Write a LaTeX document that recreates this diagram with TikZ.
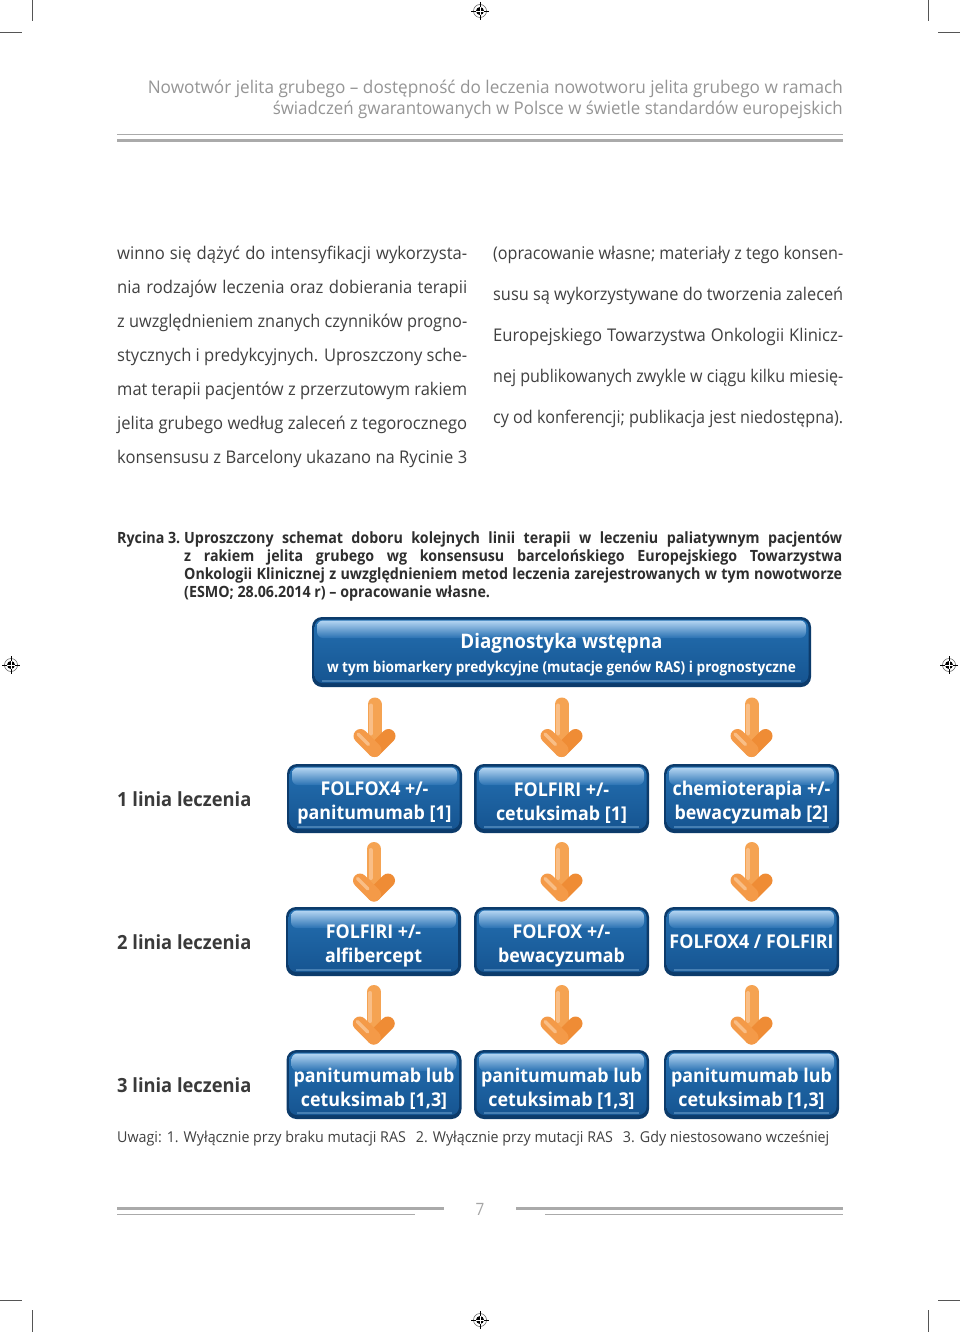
\documentclass[tikz,border=0pt]{standalone}
\usepackage{fontspec}
\usepackage{graphicx}
\usetikzlibrary{calc}
\setmainfont{Open Sans}
\newfontfamily\bodyf{Open Sans}[FakeStretch=0.95]
\newfontfamily\hdrf{Open Sans}[FakeStretch=0.9]
\newfontfamily\condf{Open Sans}[FakeStretch=0.92]
\newfontfamily\notef{Open Sans}[FakeStretch=0.85]
\newfontfamily\boxff{Open Sans}[FakeStretch=0.94]
\newfontfamily\lblf{Open Sans}[FakeStretch=0.94]

\definecolor{txt}{HTML}{404040}
\definecolor{captxt}{HTML}{2E2E2E}
\definecolor{lbl}{HTML}{3A3A3A}
\definecolor{hdr}{HTML}{959595}
\definecolor{rule}{HTML}{AAAAAA}
\definecolor{pgnum}{HTML}{A5A5A5}
\definecolor{cropc}{HTML}{555555}
\definecolor{bxedge}{HTML}{0C3B6B}
\definecolor{bxtop}{HTML}{2470B2}
\definecolor{bxbot}{HTML}{15538F}
\definecolor{hltop}{HTML}{B4D5F2}
\definecolor{hlbot}{HTML}{2A72B3}
\definecolor{orShaft}{HTML}{F5A352}
\definecolor{orLeft}{HTML}{F49A48}
\definecolor{orRight}{HTML}{EF8C35}
\definecolor{orHi}{HTML}{F9BE86}

\newsavebox\jbox
\newcommand\jline[2]{\sbox\jbox{#2}\ifdim\wd\jbox>#1\relax\resizebox{#1}{\height}{\usebox\jbox}\else\makebox[#1][s]{#2}\fi}
\newcommand\fitline[2]{\resizebox{#1}{\height}{#2}}
\newcommand\upstrut{\rule{0pt}{22pt}}

\newcommand\orarrow[1]{%
  \begin{scope}[shift={(#1)}]
    \draw[orShaft, line width=14pt, line cap=round] (0,-21) -- (0,14);
    \draw[orHi, line width=4pt, line cap=round] (-3.5,-20) -- (-3.5,8);
    \draw[orRight, line width=14pt, line cap=round, line join=round] (0,24.5) -- (14,10.5);
    \draw[orLeft, line width=14pt, line cap=round, line join=round] (-14,10.5) -- (0,24.5);
    \draw[orHi, line width=3.5pt, line cap=round] (-16.5,8.5) -- (-6,19);
  \end{scope}}

\begin{document}
\begin{tikzpicture}[x=1pt,y=-1pt,
  bodyline/.style={anchor=base west, inner sep=0pt, text=txt, font=\bodyf\fontsize{17.5}{20}\selectfont},
  capline/.style={anchor=base west, inner sep=0pt, text=captxt, font=\condf\bfseries\fontsize{15.5}{18}\selectfont},
  hdrline/.style={anchor=base east, inner sep=0pt, text=hdr, font=\hdrf\fontsize{17.5}{21}\selectfont},
  rowlabel/.style={anchor=base west, inner sep=0pt, text=lbl, font=\lblf\bfseries\fontsize{19.5}{23}\selectfont},
  noteline/.style={anchor=base west, inner sep=0pt, text=txt, font=\notef\fontsize{15}{18}\selectfont},
  crop/.style={draw=cropc, line width=0.8pt},
  glossy/.style={rounded corners=10pt, fill=bxedge, text=white, align=center, inner sep=0pt,
    font=\boxff\bfseries\fontsize{19}{24}\selectfont,
    path picture={
      \shade[rounded corners=8pt, top color=bxtop, bottom color=bxbot]
        ([shift={(2.5pt,-2.5pt)}]path picture bounding box.north west) rectangle
        ([shift={(-2.5pt,4pt)}]path picture bounding box.south east);
      \draw[rounded corners=0pt, line width=1.2pt, draw=bxtop!70!white, opacity=0.6]
        ([shift={(10pt,6pt)}]path picture bounding box.south west) --
        ([shift={(-10pt,6pt)}]path picture bounding box.south east);
      \shade[rounded corners=6pt, top color=hltop, bottom color=hlbot]
        ([shift={(5pt,-3.5pt)}]path picture bounding box.north west) rectangle
        ([shift={(-5pt,-21pt)}]path picture bounding box.north east);
    }},
  boxrow/.style={glossy, minimum width=175pt, minimum height=69pt}
]
\useasboundingbox (0,0) rectangle (960,1332);
\fill[white] (0,0) rectangle (960,1332);

% crop marks
\draw[crop] (32,0) -- (32,21) (0,32) -- (22,32)
            (928,0) -- (928,21) (938,32) -- (960,32)
            (0,1300) -- (22,1300) (32,1310) -- (32,1332)
            (938,1300) -- (960,1300) (928,1310) -- (928,1332);
% registration marks
\foreach \p/\q in {480/11, 480/1320, 11/665, 949/665} {
  \begin{scope}[shift={(\p,\q)}]
    \draw[cropc, line width=0.5pt] (0,0) circle[radius=6.5pt];
    \fill[black] (0,0) circle[radius=4pt];
    \draw[white, line width=0.5pt] (-4,0) -- (4,0) (0,-4) -- (0,4);
    \draw[black, line width=0.5pt] (-9,0) -- (-4,0) (4,0) -- (9,0) (0,-9) -- (0,-4) (0,4) -- (0,9);
  \end{scope}
}

% header
\node[hdrline] (h1) at (843,94) {\fitline{695pt}{Nowotwór jelita grubego – dostępność do leczenia nowotworu jelita grubego w ramach}};
\node[hdrline] (h2) at (843,115) {\fitline{570pt}{świadczeń gwarantowanych w Polsce w świetle standardów europejskich}};
\draw[rule, line width=1pt] (117,134.5) -- (843,134.5);
\draw[rule, line width=3pt] (117,140.5) -- (843,140.5);

% left column
\node[bodyline] (l1) at (117,259) {\jline{350pt}{winno się dążyć do intensyfikacji wykorzysta-}};
\node[bodyline] (l2) at (117,293) {\jline{350pt}{nia rodzajów leczenia oraz dobierania terapii}};
\node[bodyline] (l3) at (117,327) {\jline{350pt}{z uwzględnieniem znanych czynników progno-}};
\node[bodyline] (l4) at (117,361) {\jline{350pt}{stycznych i predykcyjnych. Uproszczony sche-}};
\node[bodyline] (l5) at (117,395) {\jline{350pt}{mat terapii pacjentów z przerzutowym rakiem}};
\node[bodyline] (l6) at (117,429) {\jline{350pt}{jelita grubego według zaleceń z tegorocznego}};
\node[bodyline] (l7) at (117,463) {\jline{350pt}{konsensusu z Barcelony ukazano na Rycinie 3}};
% right column
\node[bodyline] (r1) at (493,259) {\jline{350pt}{(opracowanie własne; materiały z tego konsen-}};
\node[bodyline] (r2) at (493,300) {\jline{350pt}{susu są wykorzystywane do tworzenia zaleceń}};
\node[bodyline] (r3) at (493,341) {\jline{350pt}{Europejskiego Towarzystwa Onkologii Klinicz-}};
\node[bodyline] (r4) at (493,382) {\jline{350pt}{nej publikowanych zwykle w ciągu kilku miesię-}};
\node[bodyline] (r5) at (493,423) {\jline{350pt}{cy od konferencji; publikacja jest niedostępna).}};

% caption
\node[capline] (c0) at (117,543) {Rycina 3.};
\node[capline] (c1) at (184,543) {\jline{658pt}{Uproszczony schemat doboru kolejnych linii terapii w leczeniu paliatywnym pacjentów}};
\node[capline] (c2) at (184,561) {\jline{658pt}{z rakiem jelita grubego wg konsensusu barcelońskiego Europejskiego Towarzystwa}};
\node[capline] (c3) at (184,579) {\jline{658pt}{Onkologii Klinicznej z uwzględnieniem metod leczenia zarejestrowanych w tym nowotworze}};
\node[capline] (c4) at (184,597) {(ESMO; 28.06.2014 r) – opracowanie własne.};

% boxes
\node[glossy, minimum width=499pt, minimum height=70pt] (diag) at (561.5,652)
  {\rule{0pt}{21pt}{\fontsize{20}{24}\selectfont Diagnostyka wstępna}\\{\fontsize{15}{18}\selectfont\fitline{469pt}{w tym biomarkery predykcyjne (mutacje genów RAS) i prognostyczne}}};

\node[boxrow] (b11) at (374.5,798.5) {\upstrut FOLFOX4 +/-\\panitumumab [1]};
\node[boxrow] (b12) at (561.5,798.5) {\upstrut FOLFIRI +/-\\cetuksimab [1]};
\node[boxrow] (b13) at (751.5,798.5) {\upstrut chemioterapia +/-\\bewacyzumab [2]};
\node[boxrow] (b21) at (373.5,941.5) {\upstrut FOLFIRI +/-\\alfibercept};
\node[boxrow] (b22) at (561.5,941.5) {\upstrut FOLFOX +/-\\bewacyzumab};
\node[boxrow] (b23) at (751.5,941.5) {FOLFOX4 / FOLFIRI};
\node[boxrow] (b31) at (374,1084.5) {\upstrut panitumumab lub\\cetuksimab [1,3]};
\node[boxrow] (b32) at (561.5,1084.5) {\upstrut panitumumab lub\\cetuksimab [1,3]};
\node[boxrow] (b33) at (751.5,1084.5) {\upstrut panitumumab lub\\cetuksimab [1,3]};

% row labels
\node[rowlabel] (row1) at (117,806) {1 linia leczenia};
\node[rowlabel] (row2) at (117,949) {2 linia leczenia};
\node[rowlabel] (row3) at (117,1092) {3 linia leczenia};

% arrows (connectors)
\coordinate (a11) at ($(diag.south -| b11.north)!0.5!(b11.north)$);
\coordinate (a12) at ($(diag.south -| b12.north)!0.5!(b12.north)$);
\coordinate (a13) at ($(diag.south -| b13.north)!0.5!(b13.north)$);
\coordinate (a21) at ($(b11.south)!0.5!(b21.north)$);
\coordinate (a22) at ($(b12.south)!0.5!(b22.north)$);
\coordinate (a23) at ($(b13.south)!0.5!(b23.north)$);
\coordinate (a31) at ($(b21.south)!0.5!(b31.north)$);
\coordinate (a32) at ($(b22.south)!0.5!(b32.north)$);
\coordinate (a33) at ($(b23.south)!0.5!(b33.north)$);
\foreach \a in {a11,a12,a13,a21,a22,a23,a31,a32,a33} { \orarrow{\a} }

% note
\node[noteline] (note) at (117,1142) {\fitline{712pt}{Uwagi: 1. Wyłącznie przy braku mutacji RAS\hspace{9pt}2. Wyłącznie przy mutacji RAS\hspace{9pt}3. Gdy niestosowano wcześniej}};

% footer
\draw[rule, line width=3pt] (117,1208.5) -- (444,1208.5);
\draw[rule, line width=1pt] (117,1214) -- (415,1214);
\draw[rule, line width=3pt] (516,1208.5) -- (843,1208.5);
\draw[rule, line width=1pt] (545,1214) -- (843,1214);
\node[inner sep=0pt, text=pgnum, font=\hdrf\fontsize{17}{20}\selectfont] (pg) at (480,1209) {7};
\end{tikzpicture}
\end{document}
